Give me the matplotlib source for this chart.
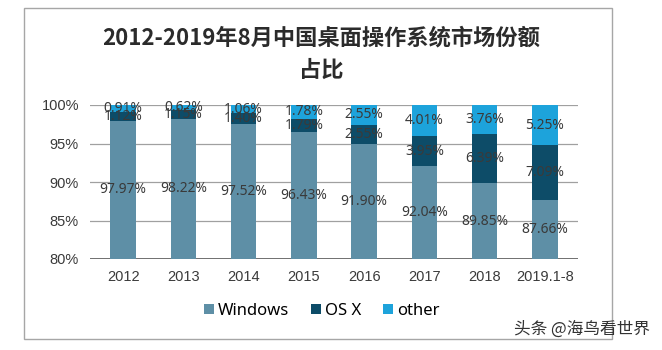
import matplotlib
matplotlib.use("Agg")
import matplotlib.pyplot as plt
from matplotlib.patches import Rectangle
import numpy as np

plt.rcParams['font.family'] = ['Noto Sans CJK SC', 'DejaVu Sans']

categories = ["2012", "2013", "2014", "2015", "2016", "2017", "2018", "2019.1-8"]
windows = [97.97, 98.22, 97.52, 96.43, 94.90, 92.04, 89.85, 87.66]
windows_labels = ["97.97%", "98.22%", "97.52%", "96.43%", "91.90%", "92.04%", "89.85%", "87.66%"]
osx = [1.12, 1.16, 1.42, 1.79, 2.55, 3.95, 6.39, 7.09]
osx_labels = ["1.12%", "1.15%", "1.40%", "1.79%", "2.55%", "3.95%", "6.39%", "7.09%"]
other = [0.91, 0.62, 1.06, 1.78, 2.55, 4.01, 3.76, 5.25]
yticks = [80, 85, 90, 95, 100]

c_win = "#5E8FA6"
c_osx = "#0D4C68"
c_oth = "#1DA3DB"

fig = plt.figure(figsize=(6.62, 3.5), dpi=100)
fig.patches.append(Rectangle((24/662, 1-339/350), (612-24)/662, (339-8)/350,
                             transform=fig.transFigure, fill=False,
                             edgecolor="#A6A6A6", lw=1.0))
ax = fig.add_axes([90/662, 1-259/350, (578-90)/662, (259-105)/350])

x = np.arange(len(categories))
w = 0.42
win = np.array(windows)
ox = np.array(osx)
ot = np.array(other)
ax.bar(x, win, w, color=c_win, label="Windows", zorder=2)
ax.bar(x, ox, w, bottom=win, color=c_osx, label="OS X", zorder=2)
ax.bar(x, ot, w, bottom=win + ox, color=c_oth, label="other", zorder=2)

lab_kw = dict(ha="center", va="center", fontsize=10, color="#3A3A3A", zorder=3,
              family=['Noto Sans', 'DejaVu Sans'])
for i in range(len(categories)):
    ax.text(x[i], (80 + win[i]) / 2, windows_labels[i], **lab_kw)
    ax.text(x[i], win[i] + ox[i] / 2, osx_labels[i], **lab_kw)
    ax.text(x[i], win[i] + ox[i] + ot[i] / 2, f"{other[i]:.2f}%", **lab_kw)

ax.set_ylim(80, 100)
ax.set_xlim(-0.55, len(categories) - 0.45)
ax.set_yticks(yticks)
ax.set_yticklabels([f"{v}%" for v in yticks], fontsize=10.5, color="#3A3A3A",
                   family=['Liberation Sans', 'DejaVu Sans'])
ax.set_xticks(x)
ax.set_xticklabels(categories, fontsize=10.5, color="#3A3A3A",
                   family=['Liberation Sans', 'DejaVu Sans'])
ax.grid(axis="y", color="#A0A0A0", lw=0.9, zorder=0)
ax.axhline(80, color="#505050", lw=1.2, zorder=1)
for s in ax.spines.values():
    s.set_visible(False)
ax.tick_params(length=0, pad=8)

fig.text(0.485, 1-38/350, "2012-2019年8月中国桌面操作系统市场份额", ha="center", va="center",
         fontsize=16, fontweight="bold", color="#2B2B2B")
fig.text(0.485, 1-70/350, "占比", ha="center", va="center",
         fontsize=16, fontweight="bold", color="#2B2B2B")

handles, labels = ax.get_legend_handles_labels()
fig.legend(handles, labels, loc="center", bbox_to_anchor=(322/662, 1-311/350), ncol=3,
           frameon=False, fontsize=12, handlelength=0.6, handleheight=0.6,
           handletextpad=0.25, columnspacing=1.3,
           prop={'family': ['Noto Sans', 'DejaVu Sans'], 'size': 12})

fig.text(650/662, 1-329/350, "头条 @海鸟看世界", ha="right", va="center",
         fontsize=12, color="#333333")

fig.savefig("out.png", dpi=100)
